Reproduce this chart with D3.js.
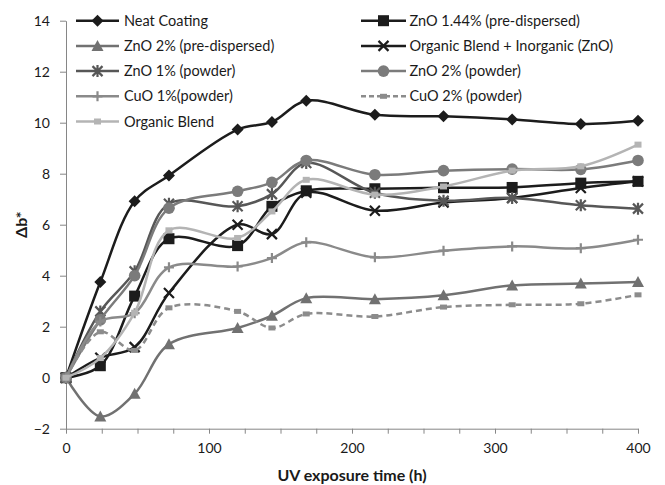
<!DOCTYPE html>
<html><head><meta charset="utf-8">
<script src="https://cdn.jsdelivr.net/npm/d3@7"></script>
<style>
body{margin:0;background:#fff;}
text{font-family:Lato,"Open Sans",sans-serif;}
</style></head>
<body><svg id="c" width="665" height="485"></svg>
<script>
const time = [0,24,48,72,120,144,168,216,264,312,360,400];
const neatCoating = [0,3.75,6.92,7.93,9.73,10.03,10.86,10.31,10.25,10.13,9.95,10.08];
const zno144Pre = [0,0.47,3.2,5.45,5.18,6.72,7.33,7.41,7.45,7.46,7.63,7.7];
const zno2Pre = [0,-1.52,-0.63,1.31,1.95,2.43,3.12,3.08,3.23,3.62,3.69,3.75];
const organicInorganic = [0,0.78,1.2,3.32,6.0,5.63,7.25,6.55,6.87,7.05,7.44,7.7];
const zno1Powder = [0,2.6,4.17,6.82,6.72,7.2,8.42,7.25,6.94,7.05,6.76,6.63];
const zno2Powder = [0,2.27,4.0,6.65,7.31,7.66,8.52,7.96,8.12,8.18,8.17,8.52];
const cuo1Powder = [0,2.2,2.53,4.33,4.36,4.69,5.31,4.72,4.98,5.15,5.08,5.41];
const cuo2Powder = [0,1.8,1.07,2.74,2.6,1.95,2.5,2.4,2.77,2.86,2.9,3.25];
const organicBlend = [0,0.77,2.55,5.78,5.48,6.52,7.76,7.18,7.5,8.12,8.29,9.14];
const seriesNames = ["Neat Coating","ZnO 1.44% (pre-dispersed)","ZnO 2% (pre-dispersed)","Organic Blend + Inorganic (ZnO)","ZnO 1% (powder)","ZnO 2% (powder)","CuO 1%(powder)","CuO 2% (powder)","Organic Blend"];
const xTickValues = [0,25,50,75,100,125,150,175,200,225,250,275,300,325,350,375,400];
const xTickLabels = [0,100,200,300,400];
const yTickValues = [-2,0,2,4,6,8,10,12,14];
const xTitle = "UV exposure time (h)";
const yTitle = "Δb*";

const seriesValues = [neatCoating,zno144Pre,zno2Pre,organicInorganic,zno1Powder,zno2Powder,cuo1Powder,cuo2Powder,organicBlend];
const styles = [
  {color:"#1c1c1c", marker:"diamond"},
  {color:"#1c1c1c", marker:"square"},
  {color:"#717171", marker:"triangle"},
  {color:"#1c1c1c", marker:"x"},
  {color:"#575757", marker:"asterisk"},
  {color:"#7b7b7b", marker:"circle"},
  {color:"#8a8a8a", marker:"plus"},
  {color:"#8c8c8c", marker:"smallsq", dash:"6,4"},
  {color:"#b4b4b4", marker:"smallsq2"}
];

const svg = d3.select("#c");
const x = d3.scaleLinear().domain([0,400]).range([66,638]);
const y = d3.scaleLinear().domain([-2,14]).range([428.7,20.7]);
const axisColor = "#868686";

// axes
const gx = svg.append("g").attr("transform",`translate(0,${y(-2)})`)
  .call(d3.axisBottom(x).tickValues(xTickValues).tickSize(5).tickSizeOuter(0)
    .tickFormat(d => xTickLabels.includes(d) ? d : ""));
gx.select(".domain").attr("stroke",axisColor).attr("stroke-width",1);
gx.selectAll(".tick line").attr("stroke",axisColor);
gx.selectAll(".tick text").attr("font-size",14).attr("fill","#1a1a1a").attr("dy","1.2em");

const gy = svg.append("g").attr("transform",`translate(${x(0)},0)`)
  .call(d3.axisLeft(y).tickValues(yTickValues).tickSize(6).tickSizeOuter(0).tickPadding(10));
gy.select(".domain").attr("stroke",axisColor).attr("stroke-width",1);
gy.selectAll(".tick line").attr("stroke",axisColor);
gy.selectAll(".tick text").attr("font-size",14).attr("fill","#1a1a1a");

svg.append("text").attr("x",(x(0)+x(400))/2).attr("y",481)
  .attr("text-anchor","middle").attr("font-size",16).attr("font-weight","bold").attr("fill","#1a1a1a").text(xTitle);
svg.append("text").attr("transform",`translate(27,${(y(-2)+y(14))/2}) rotate(-90)`)
  .attr("text-anchor","middle").attr("font-size",16).attr("font-weight","bold").attr("fill","#1a1a1a").text(yTitle);

function drawMarker(g, type, color, cx, cy){
  const s = g.append("g").attr("transform",`translate(${cx},${cy})`);
  switch(type){
    case "diamond": s.append("path").attr("d","M0,-6L6,0L0,6L-6,0Z").attr("fill",color); break;
    case "square": s.append("rect").attr("x",-5.5).attr("y",-5.5).attr("width",11).attr("height",11).attr("fill",color); break;
    case "triangle": s.append("path").attr("d","M0,-6L6,5L-6,5Z").attr("fill",color); break;
    case "x": s.append("path").attr("d","M-5,-5L5,5M-5,5L5,-5").attr("stroke",color).attr("stroke-width",2.2); break;
    case "asterisk": s.append("path").attr("d","M-5,-5L5,5M-5,5L5,-5M0,-6L0,6").attr("stroke",color).attr("stroke-width",2.2); break;
    case "circle": s.append("circle").attr("r",5.8).attr("fill",color); break;
    case "plus": s.append("path").attr("d","M-5,0L5,0M0,-5L0,5").attr("stroke",color).attr("stroke-width",2.2); break;
    case "smallsq": s.append("rect").attr("x",-3.5).attr("y",-2.5).attr("width",7).attr("height",5).attr("fill",color); break;
    case "smallsq2": s.append("rect").attr("x",-3.5).attr("y",-3).attr("width",7).attr("height",6).attr("fill",color); break;
  }
}

const line = d3.line().x(d=>x(d[0])).y(d=>y(d[1])).curve(d3.curveCatmullRom.alpha(0.5));
const plot = svg.append("g");
seriesValues.forEach((vals,i)=>{
  const st = styles[i];
  const pts = time.map((t,j)=>[t,vals[j]]);
  const g = plot.append("g");
  g.append("path").attr("d",line(pts)).attr("fill","none").attr("stroke",st.color)
    .attr("stroke-width",2.5).attr("stroke-dasharray",st.dash||null);
  pts.forEach(p=>drawMarker(g, st.marker, st.color, x(p[0]), y(p[1])));
});

// legend
const leg = svg.append("g");
const cols = [{x1:76,x2:119,mx:97.5,tx:124},{x1:361,x2:406,mx:383.5,tx:409.5}];
seriesNames.forEach((name,i)=>{
  const c = cols[i%2], row = Math.floor(i/2);
  const ly = 20.7 + row*25.2;
  const st = styles[i];
  leg.append("line").attr("x1",c.x1).attr("x2",c.x2).attr("y1",ly).attr("y2",ly)
    .attr("stroke",st.color).attr("stroke-width",2.5).attr("stroke-dasharray",st.dash?"5,3":null);
  drawMarker(leg, st.marker, st.color, c.mx, ly);
  leg.append("text").attr("x",c.tx).attr("y",ly).attr("dy","0.35em").attr("font-size",14.5)
    .attr("fill","#1a1a1a").text(name);
});
</script></body></html>
